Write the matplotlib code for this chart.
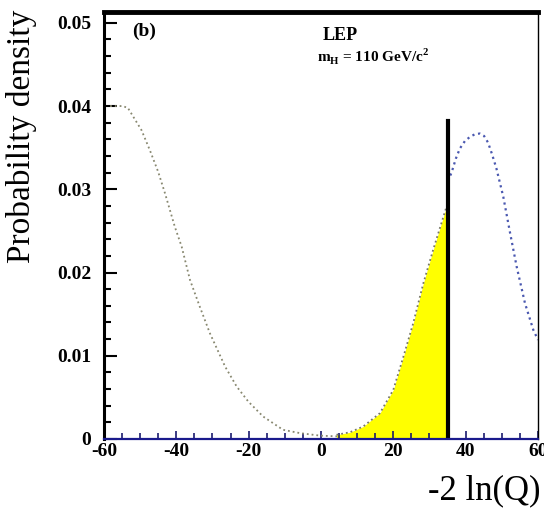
import numpy as np
import matplotlib.pyplot as plt
from matplotlib.ticker import MultipleLocator

# background-like distribution (left, dotted)
bkg_x = [-58.3, -55.0, -53.4, -49.6, -47.3, -45.0, -43.1, -40.4, -38.5, -36.2,
         -33.5, -30.7, -26.5, -23.3, -20.1, -16.0, -10.5, -5.8, -0.3, 5.0]
bkg_y = [0.0400, 0.0400, 0.0398, 0.0371, 0.0347, 0.0321, 0.0295, 0.0255, 0.0231, 0.0191,
         0.0159, 0.0127, 0.0087, 0.0063, 0.0045, 0.0027, 0.0011, 0.0007, 0.0004, 0.0003]

# signal+background tail left of the observed value (yellow area)
tail_x = [4.3, 8.0, 11.7, 16.3, 20.0, 22.8, 25.5, 28.3, 31.0, 34.7, 35.1]
tail_y = [0.0005, 0.0008, 0.0015, 0.0031, 0.0059, 0.0099, 0.0139, 0.0187, 0.0227, 0.0279, 0.0281]

# signal+background right of the observed value (blue dotted)
sb_x = [35.1, 36.1, 37.3, 38.4, 39.8, 41.2, 42.5, 43.9, 45.1, 46.2, 47.3, 48.5, 50.4,
        52.3, 54.1, 56.4, 58.7, 60.0]
sb_y = [0.0310, 0.0320, 0.0337, 0.0349, 0.0358, 0.0363, 0.0366, 0.0367, 0.0364, 0.0356,
        0.0342, 0.0325, 0.0291, 0.0247, 0.0207, 0.0163, 0.0131, 0.0119]

obs_x = 35.1
obs_top = 0.0382

plt.rcParams['font.family'] = ['Liberation Serif', 'DejaVu Serif']
plt.rcParams['axes.unicode_minus'] = False

fig = plt.figure(figsize=(5.44, 5.11), dpi=100)
ax = fig.add_axes([0.191, 0.141, 0.798, 0.8355])

ax.fill_between(tail_x, 0, tail_y, color='#ffff00', lw=0)
ax.plot(tail_x, tail_y, ls=':', color='#777766', lw=1.3)
ax.plot(bkg_x, bkg_y, ls=':', color='#888870', lw=1.3)
ax.plot(sb_x, sb_y, ls=':', color='#4a58b0', lw=1.6)
ax.plot([obs_x, obs_x], [0, obs_top], color='black', lw=3)

ax.set_xlim(-60, 60)
ax.set_ylim(0, 0.0513)

ax.xaxis.set_major_locator(MultipleLocator(20))
ax.xaxis.set_minor_locator(MultipleLocator(5))
ax.yaxis.set_minor_locator(MultipleLocator(0.002))
ax.set_yticks([0, 0.01, 0.02, 0.03, 0.04, 0.05])
ax.set_yticklabels(['0', '0.01', '0.02', '0.03', '0.04', '0.05'])
ax.tick_params(axis='both', which='both', direction='in', top=False, right=False)
ax.tick_params(axis='y', which='major', length=9, width=1.5, pad=9)
ax.tick_params(axis='y', which='minor', length=5, width=1.5)
ax.tick_params(axis='x', which='major', length=6, width=1.2, pad=3, color='#1a1a6e')
ax.tick_params(axis='x', which='minor', length=4, width=1.2, color='#1a1a6e')
for lab in ax.get_xticklabels() + ax.get_yticklabels():
    lab.set_fontweight('bold')
    lab.set_fontsize(14)

ax.spines['top'].set_linewidth(3.5)
ax.spines['left'].set_linewidth(2.2)
ax.spines['right'].set_linewidth(1.0)
ax.spines['bottom'].set_linewidth(1.6)
ax.spines['bottom'].set_color('#1a1a8c')

ax.set_ylabel('Probability density', fontsize=24)
ax.yaxis.set_label_coords(-0.155, 0.71)
fig.text(0.993, 0.04, '-2 ln(Q)', fontsize=25, ha='right', va='center')

ax.text(0.065, 0.975, '(b)', transform=ax.transAxes, fontsize=14, fontweight='bold',
        ha='left', va='top')
ax.text(0.505, 0.965, 'LEP', transform=ax.transAxes, fontsize=13, fontweight='bold',
        ha='left', va='top')
ax.text(0.49, 0.92, r'm$_\mathregular{H}$ = 110 GeV/c$^\mathregular{2}$', transform=ax.transAxes,
        fontsize=11, fontweight='bold', ha='left', va='top')

fig.savefig('out.png', dpi=100)
